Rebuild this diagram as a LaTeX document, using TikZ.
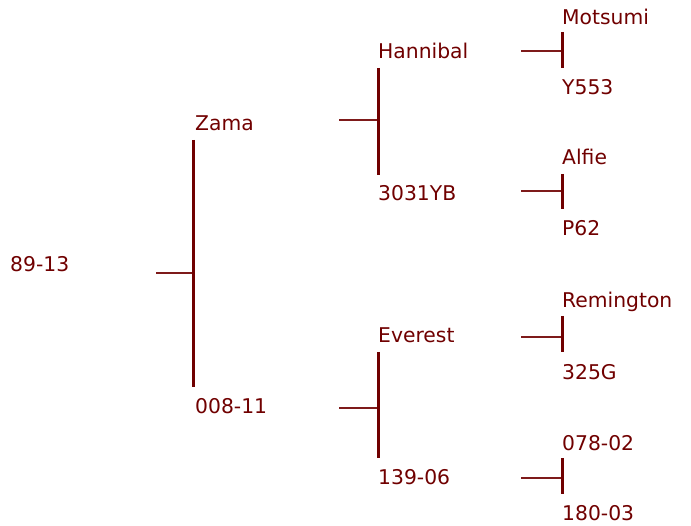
\documentclass[tikz,border=0pt]{standalone}
\usepackage{fontspec}
\setmainfont{DejaVu Sans}
\definecolor{maroonx}{HTML}{700000}
\definecolor{stubc}{HTML}{7E1A1A}
\begin{document}
\begin{tikzpicture}[x=1pt,y=-1pt,
  lbl/.style={anchor=base west,inner sep=0pt,text=maroonx,font=\fontsize{20.3}{23}\selectfont},
  bar/.style={draw=maroonx,line width=3pt},
  stub/.style={draw=stubc,line width=1.6pt}]
\useasboundingbox (0,0) rectangle (691,526);
% labels
\node[lbl] (n0) at (10,272) {89-13};
\node[lbl] (n1) at (195,131) {Zama};
\node[lbl] (n2) at (195,414) {008-11};
\node[lbl] (n11) at (378,59) {Hannibal};
\node[lbl] (n12) at (378,201) {3031YB};
\node[lbl] (n21) at (378,343) {Everest};
\node[lbl] (n22) at (378,485) {139-06};
\node[lbl] (m1) at (562,25) {Motsumi};
\node[lbl] (m2) at (562,95) {Y553};
\node[lbl] (m3) at (562,165) {Alfie};
\node[lbl] (m4) at (562,236) {P62};
\node[lbl] (m5) at (562,308) {Remington};
\node[lbl] (m6) at (562,380) {325G};
\node[lbl] (m7) at (562,450) {078-02};
\node[lbl] (m8) at (562,520) {180-03};
% coordinates
\coordinate (b0t) at (193,140); \coordinate (b0b) at (193,387); \coordinate (s0) at (156,273);
\coordinate (b1t) at (378,68);  \coordinate (b1b) at (378,175); \coordinate (s1) at (339,120);
\coordinate (b2t) at (378,352); \coordinate (b2b) at (378,458); \coordinate (s2) at (339,408);
\coordinate (c1t) at (562,32);  \coordinate (c1b) at (562,68);  \coordinate (t1) at (521,51);
\coordinate (c2t) at (562,174); \coordinate (c2b) at (562,209); \coordinate (t2) at (521,191);
\coordinate (c3t) at (562,316); \coordinate (c3b) at (562,352); \coordinate (t3) at (521,337);
\coordinate (c4t) at (562,458); \coordinate (c4b) at (562,494); \coordinate (t4) at (521,478);
% stubs
\foreach \s/\b in {s0/b0t,s1/b1t,s2/b2t,t1/c1t,t2/c2t,t3/c3t,t4/c4t}
  \draw[stub] (\s) -- (\s -| \b);
% bars
\foreach \t/\b in {b0t/b0b,b1t/b1b,b2t/b2b,c1t/c1b,c2t/c2b,c3t/c3b,c4t/c4b}
  \draw[bar] (\t) -- (\b);
\end{tikzpicture}
\end{document}
